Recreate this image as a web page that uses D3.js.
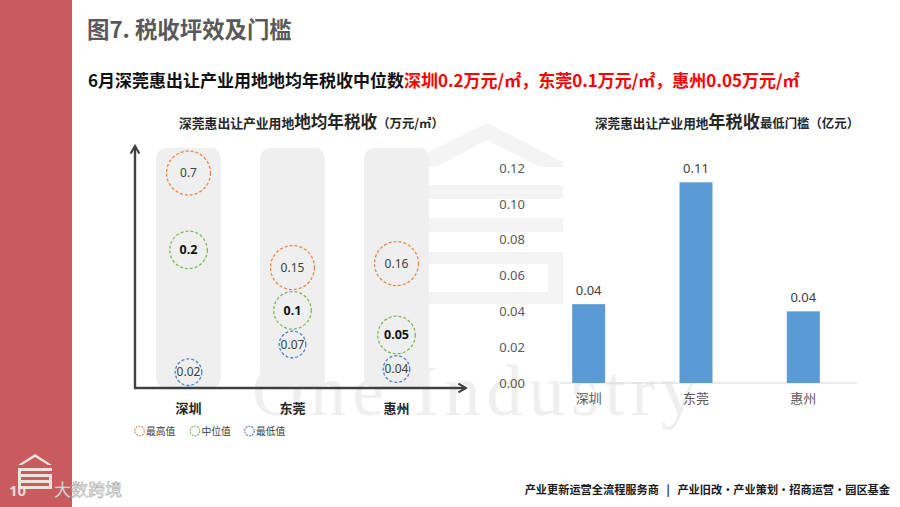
<!DOCTYPE html>
<html>
<head>
<meta charset="utf-8">
<script src="https://cdn.jsdelivr.net/npm/d3@7"></script>
<style>
  html, body { margin: 0; padding: 0; background: #fff; }
  svg { display: block; }
</style>
</head>
<body>
<div id="chart"></div>
<script>
// data
const cities = ['深圳', '东莞', '惠州'];
const maxVals = [0.7, 0.15, 0.16];      // 最高值
const medVals = [0.2, 0.1, 0.05];       // 中位值
const minVals = [0.02, 0.07, 0.04];     // 最低值
const thresholdVals = [0.044, 0.112, 0.04]; // 年税收最低门槛（亿元）
const thresholdTicks = [0, 0.02, 0.04, 0.06, 0.08, 0.10, 0.12];
const legendLabels = ['最高值', '中位值', '最低值'];

const W = 900, H = 507;
const CJK = '"Noto Sans CJK SC", "Noto Sans", sans-serif';
const LAT = '"Noto Sans", "Open Sans", sans-serif';

const svg = d3.select('#chart').append('svg')
    .attr('width', W)
    .attr('height', H)
    .attr('font-family', CJK);

// red side bar
svg.append('rect')
    .attr('x', 0).attr('y', 0)
    .attr('width', 72).attr('height', H)
    .attr('fill', '#C95B5E');

drawWatermark();

// headings
svg.append('text')
    .attr('x', 87).attr('y', 38)
    .attr('font-size', 22.4).attr('font-weight', 'bold')
    .attr('fill', '#595959')
    .text('图7. 税收坪效及门槛');

const sub = svg.append('text')
    .attr('x', 88).attr('y', 87)
    .attr('font-size', 17).attr('font-weight', 'bold');
sub.append('tspan').attr('fill', '#111').text('6月深莞惠出让产业用地地均年税收中位数');
sub.append('tspan').attr('fill', '#FF0000').text('深圳0.2万元/㎡，东莞0.1万元/㎡，惠州0.05万元/㎡');

drawLeftChart();
drawRightChart();
drawFooter();

function drawWatermark() {
    const wm = svg.append('g').attr('fill', '#F4F4F4');
    // big house logo behind the middle
    wm.append('path')
        .attr('d', 'M413,160 L487,123 L563,162 L563,167 L540,167 L487,140 L436,167 L413,167 Z');
    [[405, 185, 158, 14], [405, 218, 158, 14], [405, 252, 150, 12], [405, 292, 158, 12]]
        .forEach(b => wm.append('rect').attr('x', b[0]).attr('y', b[1]).attr('width', b[2]).attr('height', b[3]));
    wm.append('rect').attr('x', 405).attr('y', 185).attr('width', 14).attr('height', 120);
    wm.append('rect').attr('x', 548).attr('y', 252).attr('width', 15).attr('height', 52);

    svg.append('text')
        .attr('x', 252).attr('y', 415)
        .attr('font-family', '"Liberation Serif", "DejaVu Serif", serif')
        .attr('font-size', 72)
        .attr('fill', '#EFEFEF')
        .attr('textLength', 445)
        .attr('lengthAdjust', 'spacing')
        .text('One Industry');
}

function drawLeftChart() {
    const L = { left: 135, right: 466, top: 146, bottom: 388 };

    const title = svg.append('text')
        .attr('x', 179).attr('y', 128)
        .attr('font-weight', 'bold').attr('fill', '#262626');
    title.append('tspan').attr('font-size', 12.8).text('深莞惠出让产业用地');
    title.append('tspan').attr('font-size', 16.6).text('地均年税收');
    title.append('tspan').attr('font-size', 12.4).text('（万元/㎡）');

    const x = d3.scalePoint().domain(cities).range([188.5, 396.5]);
    // log scale for the circle heights, then pushed apart so they do not overlap
    const y = d3.scaleLog().domain([0.05, 0.7]).range([335, 173]);

    // grey column backgrounds
    svg.append('g').selectAll('rect')
        .data(cities)
        .join('rect')
        .attr('x', d => x(d) - 32.5)
        .attr('y', 148)
        .attr('width', 65)
        .attr('height', L.bottom - 148)
        .attr('rx', 10)
        .attr('fill', '#EFEFEF');

    // axes with arrows
    svg.append('defs').append('marker')
        .attr('id', 'arrow')
        .attr('viewBox', '0 0 10 10')
        .attr('refX', 8).attr('refY', 5)
        .attr('markerWidth', 4.5).attr('markerHeight', 4.5)
        .attr('orient', 'auto')
        .append('path')
        .attr('d', 'M1,1 L8,5 L1,9')
        .attr('fill', 'none')
        .attr('stroke', '#404040')
        .attr('stroke-width', 2);

    svg.append('path')
        .attr('d', `M${L.left},${L.bottom} L${L.left},${L.top}`)
        .attr('stroke', '#404040').attr('stroke-width', 2.4)
        .attr('marker-end', 'url(#arrow)');
    svg.append('path')
        .attr('d', `M${L.left - 1},${L.bottom} L${L.right},${L.bottom}`)
        .attr('stroke', '#404040').attr('stroke-width', 2.4)
        .attr('marker-end', 'url(#arrow)');

    const kinds = [
        { vals: maxVals, r: 22, color: '#E5874B', bold: false },
        { vals: medVals, r: 18.8, color: '#7DB857', bold: true },
        { vals: minVals, r: 13.3, color: '#4F7FCB', bold: false },
    ];

    const nodes = [];
    cities.forEach((c, i) => {
        const items = kinds.map(k => ({ city: c, v: k.vals[i], r: k.r, color: k.color, bold: k.bold }))
            .sort((a, b) => b.v - a.v);
        items.forEach((d, j) => {
            d.y = y(d.v);
            if (j > 0) {
                const p = items[j - 1];
                d.y = Math.max(d.y, p.y + p.r + d.r + 2);
            }
            d.y = Math.min(d.y, L.bottom - 2.5 - d.r);
            nodes.push(d);
        });
    });

    const g = svg.append('g').selectAll('g')
        .data(nodes)
        .join('g')
        .attr('transform', d => `translate(${x(d.city)},${d.y})`);

    g.append('circle')
        .attr('r', d => d.r)
        .attr('fill', 'none')
        .attr('stroke', d => d.color)
        .attr('stroke-width', 1.3)
        .attr('stroke-dasharray', '3,2');

    g.append('text')
        .attr('text-anchor', 'middle')
        .attr('dy', '0.35em')
        .attr('font-family', LAT)
        .attr('font-size', d => d.bold ? 12.5 : 12)
        .attr('font-weight', d => d.bold ? 'bold' : 'normal')
        .attr('fill', d => d.bold ? '#111' : '#404040')
        .text(d => d.v);

    // city labels
    svg.append('g').selectAll('text')
        .data(cities)
        .join('text')
        .attr('x', d => x(d))
        .attr('y', 413)
        .attr('text-anchor', 'middle')
        .attr('font-size', 13)
        .attr('font-weight', 'bold')
        .attr('fill', '#262626')
        .text(d => d);

    // legend
    const lg = svg.append('g').selectAll('g')
        .data(legendLabels)
        .join('g')
        .attr('transform', (d, i) => `translate(${[139.5, 195, 249.5][i]},431)`);
    lg.append('circle')
        .attr('r', 4.8)
        .attr('fill', 'none')
        .attr('stroke', (d, i) => kinds[i].color)
        .attr('stroke-width', 1.1)
        .attr('stroke-dasharray', '2,1');
    lg.append('text')
        .attr('x', 6.5).attr('y', 4)
        .attr('font-size', 9.8)
        .attr('fill', '#404040')
        .text(d => d);
}

function drawRightChart() {
    const R = { left: 535, right: 857, top: 168, bottom: 383 };

    const title = svg.append('text')
        .attr('x', 595).attr('y', 128)
        .attr('font-weight', 'bold').attr('fill', '#262626');
    title.append('tspan').attr('font-size', 12.6).text('深莞惠出让产业用地');
    title.append('tspan').attr('font-size', 17.2).text('年税收');
    title.append('tspan').attr('font-size', 12.4).text('最低门槛（亿元）');

    const x = d3.scaleBand().domain(cities).range([R.left, R.right]);
    const y = d3.scaleLinear().domain([0, 0.12]).range([R.bottom, R.top]);
    const barW = 33;

    const yAxis = d3.axisLeft(y)
        .tickValues(thresholdTicks)
        .tickFormat(d3.format('.2f'))
        .tickSize(0)
        .tickPadding(3);
    const ya = svg.append('g')
        .attr('transform', 'translate(528,0)')
        .call(yAxis);
    ya.select('.domain').remove();
    ya.selectAll('text')
        .attr('font-family', LAT)
        .attr('font-size', 13)
        .attr('fill', '#595959');

    svg.append('line')
        .attr('x1', 560).attr('x2', R.right)
        .attr('y1', R.bottom).attr('y2', R.bottom)
        .attr('stroke', '#D9D9D9').attr('stroke-width', 1);

    svg.append('g').selectAll('rect')
        .data(cities)
        .join('rect')
        .attr('x', d => x(d) + x.bandwidth() / 2 - barW / 2)
        .attr('y', (d, i) => y(thresholdVals[i]))
        .attr('width', barW)
        .attr('height', (d, i) => R.bottom - y(thresholdVals[i]))
        .attr('fill', '#5B9BD5');

    svg.append('g').selectAll('text')
        .data(cities)
        .join('text')
        .attr('x', d => x(d) + x.bandwidth() / 2)
        .attr('y', (d, i) => y(thresholdVals[i]) - 9)
        .attr('text-anchor', 'middle')
        .attr('font-family', LAT)
        .attr('font-size', 13)
        .attr('fill', '#404040')
        .text((d, i) => d3.format('.2f')(thresholdVals[i]));

    const xAxis = d3.axisBottom(x).tickSize(0).tickPadding(11);
    const xa = svg.append('g')
        .attr('transform', `translate(0,${R.bottom})`)
        .call(xAxis);
    xa.select('.domain').remove();
    xa.selectAll('text')
        .attr('font-family', CJK)
        .attr('font-size', 13)
        .attr('fill', '#595959');
}

function drawFooter() {
    const ft = svg.append('text')
        .attr('x', 890).attr('y', 494)
        .attr('text-anchor', 'end')
        .attr('font-size', 11.2)
        .attr('font-weight', 'bold')
        .attr('fill', '#1a1a1a')
        .style('white-space', 'pre');
    ft.append('tspan').text('产业更新运营全流程服务商   |   产业旧改・产业策划・招商运营・园区基金');

    // small logo in the red bar
    const lo = svg.append('g').attr('fill', '#F2F2F2').attr('opacity', 0.9);
    lo.append('path').attr('d', 'M18,465 L35,454 L52,465 L48,465 L35,457 L22,465 Z');
    [[18, 468, 34, 3], [18, 474, 34, 3], [18, 480, 34, 3], [18, 486, 34, 3]]
        .forEach(b => lo.append('rect').attr('x', b[0]).attr('y', b[1]).attr('width', b[2]).attr('height', b[3]));
    lo.append('rect').attr('x', 18).attr('y', 468).attr('width', 3).attr('height', 21);
    lo.append('rect').attr('x', 49).attr('y', 477).attr('width', 3).attr('height', 12);

    svg.append('text')
        .attr('x', 9).attr('y', 496)
        .attr('font-family', LAT)
        .attr('font-size', 15)
        .attr('font-weight', 'bold')
        .attr('fill', '#EDEDED')
        .attr('opacity', 0.85)
        .text('10');
    svg.append('text')
        .attr('x', 54).attr('y', 496)
        .attr('font-size', 17)
        .attr('fill', '#E6E6E6')
        .attr('stroke', '#9a9a9a')
        .attr('stroke-width', 0.4)
        .text('大数跨境');
}
</script>
</body>
</html>
